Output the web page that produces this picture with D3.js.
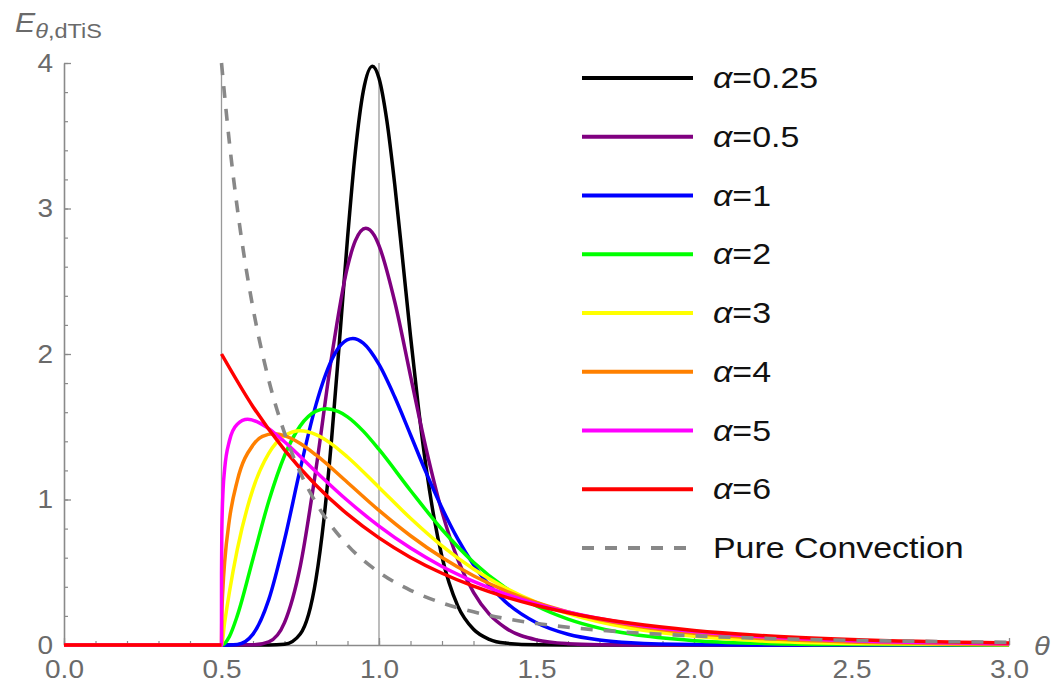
<!DOCTYPE html>
<html>
<head>
<meta charset="utf-8">
<script src="https://cdn.jsdelivr.net/npm/d3@7"></script>
<style>
  body { margin: 0; background: #fff; }
  svg { display: block; }
  text { font-family: "Liberation Sans", Arial, sans-serif; }
</style>
</head>
<body>
<svg id="chart" width="1053" height="683"></svg>
<script>
// values, [theta, E]
const a025 = [[0,0],[0.5,0],[0.65,0],[0.7,0.005],[0.75,0.076],[0.8,0.454],[0.825,0.862],[0.85,1.428],[0.875,2.102],[0.9,2.793],[0.925,3.393],[0.95,3.805],[0.979,3.978],[1.0,3.895],[1.025,3.603],[1.05,3.164],[1.075,2.649],[1.1,2.124],[1.125,1.635],[1.15,1.214],[1.175,0.871],[1.2,0.606],[1.25,0.269],[1.3,0.108],[1.35,0.039],[1.4,0.013],[1.5,0.001],[1.6,0],[3.0,0]];
const a05 = [[0,0],[0.5,0],[0.6,0.001],[0.65,0.022],[0.7,0.154],[0.75,0.541],[0.8,1.210],[0.85,1.986],[0.9,2.599],[0.925,2.779],[0.958,2.865],[0.985,2.815],[1.0,2.745],[1.05,2.359],[1.1,1.850],[1.15,1.345],[1.2,0.915],[1.25,0.589],[1.3,0.361],[1.35,0.212],[1.4,0.120],[1.5,0.035],[1.6,0.009],[1.7,0.002],[1.8,0.0005],[2.0,0],[3.0,0]];
const a1 = [[0,0],[0.5,0],[0.55,0.004],[0.6,0.075],[0.65,0.312],[0.7,0.722],[0.75,1.210],[0.8,1.652],[0.85,1.960],[0.88,2.065],[0.917,2.106],[0.95,2.074],[1.0,1.928],[1.05,1.704],[1.1,1.445],[1.15,1.183],[1.2,0.941],[1.25,0.729],[1.3,0.552],[1.4,0.300],[1.5,0.153],[1.6,0.074],[1.7,0.035],[1.8,0.016],[2.0,0.003],[2.2,0.0005],[3.0,0]];
const a2 = [[0,0],[0.5,0],[0.525,0.058],[0.55,0.200],[0.6,0.593],[0.65,0.988],[0.7,1.301],[0.75,1.506],[0.8,1.607],[0.833,1.624],[0.87,1.605],[0.9,1.568],[0.95,1.470],[1.0,1.344],[1.1,1.062],[1.2,0.794],[1.3,0.569],[1.4,0.395],[1.5,0.268],[1.6,0.178],[1.7,0.116],[1.8,0.075],[2.0,0.030],[2.2,0.012],[2.5,0.003],[3.0,0.0002]];
const a3 = [[0,0],[0.5,0],[0.51,0.154],[0.525,0.362],[0.55,0.655],[0.6,1.073],[0.65,1.317],[0.7,1.438],[0.75,1.472],[0.8,1.446],[0.85,1.381],[0.9,1.292],[1.0,1.083],[1.1,0.871],[1.2,0.681],[1.3,0.522],[1.4,0.394],[1.5,0.293],[1.6,0.216],[1.8,0.115],[2.0,0.060],[2.2,0.030],[2.5,0.011],[3.0,0.002]];
const a4 = [[0,0],[0.5,0],[0.501,0.185],[0.505,0.408],[0.51,0.569],[0.525,0.860],[0.55,1.128],[0.6,1.374],[0.63,1.434],[0.667,1.452],[0.7,1.439],[0.75,1.385],[0.8,1.306],[0.9,1.117],[1.0,0.925],[1.1,0.751],[1.2,0.601],[1.3,0.476],[1.4,0.374],[1.5,0.292],[1.6,0.227],[1.8,0.135],[2.0,0.080],[2.2,0.047],[2.5,0.021],[3.0,0.005]];
const a5 = [[0,0],[0.5,0],[0.5001,0.494],[0.501,0.780],[0.505,1.066],[0.51,1.210],[0.525,1.402],[0.55,1.517],[0.583,1.551],[0.62,1.527],[0.65,1.487],[0.7,1.397],[0.8,1.191],[0.9,0.993],[1.0,0.817],[1.1,0.666],[1.2,0.540],[1.3,0.437],[1.4,0.352],[1.5,0.283],[1.6,0.227],[1.8,0.145],[2.0,0.092],[2.2,0.059],[2.5,0.029],[3.0,0.009]];
const a6 = [[0,0],[0.5,0],[0.5,null],[0.5,2.0],[0.6,1.638],[0.7,1.341],[0.8,1.098],[0.9,0.899],[1.0,0.736],[1.1,0.602],[1.2,0.493],[1.3,0.404],[1.4,0.331],[1.5,0.271],[1.6,0.222],[1.8,0.149],[2.0,0.100],[2.2,0.067],[2.5,0.037],[3.0,0.013]];
const pureConvection = [[0.5,4.0],[0.525,3.455],[0.55,3.005],[0.575,2.630],[0.6,2.315],[0.65,1.821],[0.7,1.458],[0.75,1.185],[0.8,0.977],[0.9,0.686],[1.0,0.5],[1.1,0.376],[1.2,0.289],[1.3,0.228],[1.4,0.182],[1.5,0.148],[1.6,0.122],[1.8,0.086],[2.0,0.063],[2.2,0.047],[2.5,0.032],[2.8,0.023],[3.0,0.019]];

const alphaLabels = ["0.25", "0.5", "1", "2", "3", "4", "5", "6"];
const alphaSeries = [a025, a05, a1, a2, a3, a4, a5, a6];
const alphaColors = ["#000000", "#800080", "#0000ff", "#00ff00", "#ffff00", "#ff8000", "#ff00ff", "#ff0000"];
const xTicks = [0, 0.5, 1, 1.5, 2, 2.5, 3];
const yTicks = [0, 1, 2, 3, 4];
const gridX = [0.5, 1.0];

const SX = 1.12; // reference text is a bit wide
const axisGray = "#8a8a8a", labelGray = "#6a6a6a";

const svg = d3.select("#chart");
const x = d3.scaleLinear().domain([0, 3]).range([64, 1009]);
const y = d3.scaleLinear().domain([0, 4]).range([645, 63]);

svg.append("defs").append("clipPath").attr("id", "plot")
  .append("rect").attr("x", 60).attr("y", 60).attr("width", 953).attr("height", 590);

// grid lines at 0.5 and 1
svg.append("g").selectAll("line").data(gridX).enter().append("line")
  .attr("x1", d => x(d)).attr("x2", d => x(d))
  .attr("y1", y(4)).attr("y2", y(0))
  .attr("stroke", "#999").attr("stroke-width", 1.3);

// minor ticks
svg.append("g").attr("transform", `translate(0,${y(0)})`)
  .call(d3.axisBottom(x).tickValues(d3.range(0, 3.001, 0.1)).tickSize(-4).tickSizeOuter(0).tickFormat(""))
  .call(g => g.select(".domain").remove())
  .call(g => g.selectAll("line").attr("stroke", axisGray).attr("stroke-width", 1.2));
svg.append("g").attr("transform", `translate(${x(0)},0)`)
  .call(d3.axisLeft(y).tickValues(d3.range(0, 4.001, 0.2)).tickSize(-4).tickSizeOuter(0).tickFormat(""))
  .call(g => g.select(".domain").remove())
  .call(g => g.selectAll("line").attr("stroke", axisGray).attr("stroke-width", 1.2));

// major axes
const xAxis = svg.append("g").attr("transform", `translate(0,${y(0)})`)
  .call(d3.axisBottom(x).tickValues(xTicks).tickSize(-7).tickSizeOuter(0).tickPadding(15).tickFormat(d3.format(".1f")));
const yAxis = svg.append("g").attr("transform", `translate(${x(0)},0)`)
  .call(d3.axisLeft(y).tickValues(yTicks).tickSize(-7).tickSizeOuter(0).tickPadding(11).tickFormat(d3.format("d")));
[xAxis, yAxis].forEach(g => {
  g.select(".domain").attr("stroke", axisGray).attr("stroke-width", 1.6);
  g.selectAll(".tick line").attr("stroke", axisGray).attr("stroke-width", 1.3);
  g.selectAll(".tick text").attr("fill", labelGray).attr("font-size", 25)
    .attr("font-family", "'Liberation Sans', Arial, sans-serif")
    .attr("transform", `scale(${SX},1)`);
});
yAxis.selectAll(".tick text").attr("x", -11 / SX);

// curves
const line = d3.line()
  .defined(d => d[1] !== null)
  .x(d => x(d[0])).y(d => y(d[1]))
  .curve(d3.curveMonotoneX);

const curves = svg.append("g").attr("clip-path", "url(#plot)");
curves.selectAll("path.alpha").data(alphaSeries).enter().append("path")
  .attr("class", "alpha")
  .attr("d", line)
  .attr("fill", "none")
  .attr("stroke", (d, i) => alphaColors[i])
  .attr("stroke-width", 3.5)
  .attr("stroke-linejoin", "round");
curves.append("path").datum(pureConvection)
  .attr("d", line)
  .attr("fill", "none")
  .attr("stroke", "#888")
  .attr("stroke-width", 3.6)
  .attr("stroke-dasharray", "12,11");

// axis labels
const eLab = svg.append("text").attr("transform", `translate(15,32) scale(${SX},1)`)
  .attr("fill", labelGray).attr("font-size", 27);
eLab.append("tspan").attr("font-style", "italic").text("E");
eLab.append("tspan").attr("font-size", 21).attr("dy", 6).attr("font-style", "italic").text("θ");
eLab.append("tspan").attr("font-size", 21).text(",dTiS");

svg.append("text").attr("transform", `translate(1034,655) scale(${SX},1)`)
  .attr("fill", labelGray).attr("font-size", 26).attr("font-style", "italic").text("θ");

// legend
const LSX = 1.17;
const rowY = i => 78 + i * 58.75;
const legendItems = alphaLabels.map((l, i) => ({ label: l, color: alphaColors[i], dash: null }))
  .concat([{ label: null, color: "#888", dash: "12,11" }]);
const leg = svg.append("g").selectAll("g").data(legendItems).enter().append("g")
  .attr("transform", (d, i) => `translate(0,${rowY(i)})`);
leg.append("line")
  .attr("x1", 582).attr("x2", 693).attr("y1", 0).attr("y2", 0)
  .attr("stroke", d => d.color).attr("stroke-width", 4)
  .attr("stroke-dasharray", d => d.dash);
const lt = leg.append("text").attr("transform", `translate(713,10) scale(${LSX},1)`)
  .attr("font-size", 29).attr("fill", "#111");
lt.each(function (d) {
  const t = d3.select(this);
  if (d.label === null) { t.text("Pure Convection"); return; }
  t.append("tspan").attr("font-style", "italic").text("α");
  t.append("tspan").text("=" + d.label);
});
</script>
</body>
</html>
